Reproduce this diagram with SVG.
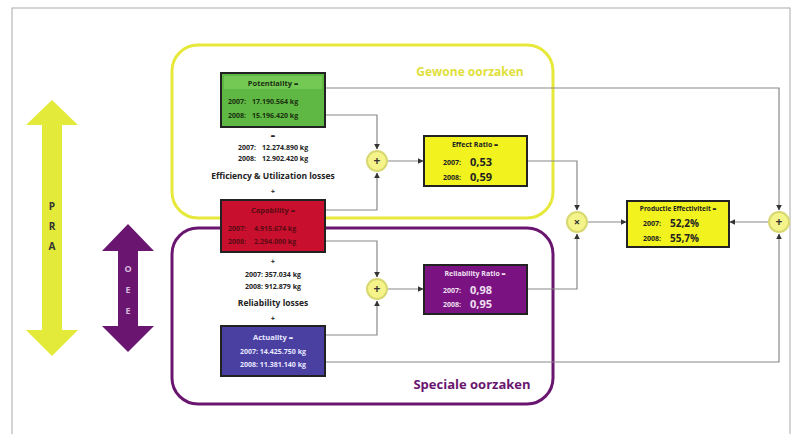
<svg xmlns="http://www.w3.org/2000/svg" width="801" height="434" viewBox="0 0 801 434">
<style>
text{font-family:"Open Sans","Liberation Sans",sans-serif;font-weight:bold}
.sm{font-size:7px}
.md{font-size:7.5px}
.big{font-size:11px}
.pc{font-size:10px}
.c{text-anchor:middle}
.con{fill:none;stroke:#888;stroke-width:1.2}
.op{fill:#f4f48a;stroke:#d8d870;stroke-width:2}
.box{stroke:#222;stroke-width:2}
</style>
<defs>
<marker id="ah" viewBox="0 0 10 10" refX="9" refY="5" markerWidth="5" markerHeight="5" orient="auto">
<path d="M0,0 L10,5 L0,10 z" fill="#333"/>
</marker>
</defs>
<rect x="0" y="0" width="801" height="434" fill="#fff"/>
<rect x="12" y="8" width="778" height="430" fill="none" stroke="#aaa" stroke-width="1"/>

<g id="group-gewone">
<rect x="172" y="45" width="381" height="173" rx="26" fill="none" stroke="#e6e83a" stroke-width="3"/>
<text x="470" y="76" class="c" style="font-size:12px;fill:#dfe03a">Gewone oorzaken</text>
</g>
<g id="group-speciale">
<rect x="172" y="228" width="381" height="176" rx="26" fill="none" stroke="#6a1670" stroke-width="3"/>
<text x="472" y="389" class="c" style="font-size:13px;fill:#6a1670">Speciale oorzaken</text>
</g>

<g id="pra">
<polygon points="52,100 78,125 62,125 62,330 78,330 52,356 26,330 42,330 42,125 26,125" fill="#e4ea3a"/>
<text x="52" y="210" class="c" style="font-size:10px;fill:#333">P</text>
<text x="52" y="230" class="c" style="font-size:10px;fill:#333">R</text>
<text x="52" y="250" class="c" style="font-size:10px;fill:#333">A</text>
</g>
<g id="oee">
<polygon points="128,224 154,251 138,251 138,326 154,326 128,352 102,326 118,326 118,251 102,251" fill="#6a1670"/>
<text x="128" y="272" class="c" style="font-size:9px;fill:#d9b8dd">O</text>
<text x="128" y="293" class="c" style="font-size:9px;fill:#d9b8dd">E</text>
<text x="128" y="314" class="c" style="font-size:9px;fill:#d9b8dd">E</text>
</g>

<g id="connectors">
<path class="con" d="M325,88 H779 V210" marker-end="url(#ah)"/>
<path class="con" d="M325,362 H779 V234" marker-end="url(#ah)"/>
<path class="con" d="M325,115 H377 V149" marker-end="url(#ah)"/>
<path class="con" d="M325,210 H377 V173" marker-end="url(#ah)"/>
<path class="con" d="M325,241 H377 V277" marker-end="url(#ah)"/>
<path class="con" d="M325,335 H377 V301" marker-end="url(#ah)"/>
<path class="con" d="M388,161 H423" marker-end="url(#ah)"/>
<path class="con" d="M388,289 H423" marker-end="url(#ah)"/>
<path class="con" d="M527,161 H577 V210" marker-end="url(#ah)"/>
<path class="con" d="M527,289 H577 V234" marker-end="url(#ah)"/>
<path class="con" d="M588,222 H626" marker-end="url(#ah)"/>
<path class="con" d="M768,222 H730" marker-end="url(#ah)"/>
</g>

<g id="potentiality">
<rect class="box" x="221" y="73" width="104" height="54" fill="#5fb843"/>
<rect x="224" y="76" width="98" height="13" fill="#74c954"/>
<text x="273" y="86" class="c md" fill="#1a3010">Potentiality =</text>
<text y="104" class="sm" fill="#1a3010"><tspan x="228">2007:</tspan><tspan x="252">17.190.564 kg</tspan></text>
<text y="118" class="sm" fill="#1a3010"><tspan x="228">2008:</tspan><tspan x="252">15.196.420 kg</tspan></text>
</g>

<g id="eff-losses">
<text x="273" y="138" class="c md" fill="#222">=</text>
<text y="150" class="sm" fill="#222"><tspan x="238">2007:</tspan><tspan x="262">12.274.890 kg</tspan></text>
<text y="161" class="sm" fill="#222"><tspan x="238">2008:</tspan><tspan x="262">12.902.420 kg</tspan></text>
<text x="273" y="179" class="c" style="font-size:8.5px" fill="#222">Efficiency &amp; Utilization losses</text>
<text x="273" y="194" class="c md" fill="#222">+</text>
</g>

<g id="capability">
<rect class="box" x="221" y="200" width="104" height="52" fill="#c8102e"/>
<text x="273" y="213" class="c md" fill="#5a0a14">Capability =</text>
<text y="231" class="sm" fill="#5a0a14"><tspan x="228">2007:</tspan><tspan x="254">4.915.674 kg</tspan></text>
<text y="244" class="sm" fill="#5a0a14"><tspan x="228">2008:</tspan><tspan x="254">2.294.000 kg</tspan></text>
</g>

<g id="rel-losses">
<text x="273" y="264" class="c md" fill="#222">+</text>
<text x="273" y="277" class="c sm" fill="#222">2007: 357.034 kg</text>
<text x="273" y="289" class="c sm" fill="#222">2008: 912.879 kg</text>
<text x="273" y="306" class="c" style="font-size:8.5px" fill="#222">Reliability losses</text>
<text x="273" y="321" class="c md" fill="#222">+</text>
</g>

<g id="actuality">
<rect class="box" x="221" y="326" width="104" height="50" fill="#4a40a2"/>
<text x="273" y="340" class="c md" fill="#e8e8ff">Actuality =</text>
<text x="273" y="354" class="c sm" fill="#e8e8ff">2007: 14.425.750 kg</text>
<text x="273" y="367" class="c sm" fill="#e8e8ff">2008: 11.381.140 kg</text>
</g>

<g id="plus-top">
<circle class="op" cx="377" cy="161" r="10"/>
<text x="377" y="165" class="c" style="font-size:12px" fill="#333">+</text>
</g>
<g id="plus-bottom">
<circle class="op" cx="377" cy="289" r="10"/>
<text x="377" y="293" class="c" style="font-size:12px" fill="#333">+</text>
</g>

<g id="effect-ratio">
<rect class="box" x="424" y="136" width="103" height="50" fill="#f2f21e"/>
<text x="475" y="147" class="c sm" fill="#222">Effect Ratio =</text>
<text x="443" y="165" class="sm" fill="#222">2007:</text>
<text x="470" y="166" class="big" fill="#222">0,53</text>
<text x="443" y="180" class="sm" fill="#222">2008:</text>
<text x="470" y="181" class="big" fill="#222">0,59</text>
</g>

<g id="reliability-ratio">
<rect class="box" x="424" y="265" width="103" height="49" fill="#7a1282"/>
<text x="475" y="276" class="c sm" fill="#f0e0f0">Reliability Ratio =</text>
<text x="443" y="293" class="sm" fill="#f0e0f0">2007:</text>
<text x="470" y="294" class="big" fill="#f0e0f0">0,98</text>
<text x="443" y="307" class="sm" fill="#f0e0f0">2008:</text>
<text x="470" y="308" class="big" fill="#f0e0f0">0,95</text>
</g>

<g id="multiply">
<circle class="op" cx="577" cy="222" r="10"/>
<text x="577" y="226" class="c" style="font-size:11px" fill="#333">×</text>
</g>

<g id="productie">
<rect class="box" x="627" y="201" width="102" height="46" fill="#f2f21e"/>
<text x="678" y="211" class="c" style="font-size:6.5px" fill="#222">Productie Effectiviteit =</text>
<text x="643" y="226" class="sm" fill="#222">2007:</text>
<text x="670" y="227" class="pc" fill="#222">52,2%</text>
<text x="643" y="241" class="sm" fill="#222">2008:</text>
<text x="670" y="242" class="pc" fill="#222">55,7%</text>
</g>

<g id="plus-right">
<circle class="op" cx="779" cy="222" r="10"/>
<text x="779" y="226" class="c" style="font-size:12px" fill="#333">+</text>
</g>
</svg>
